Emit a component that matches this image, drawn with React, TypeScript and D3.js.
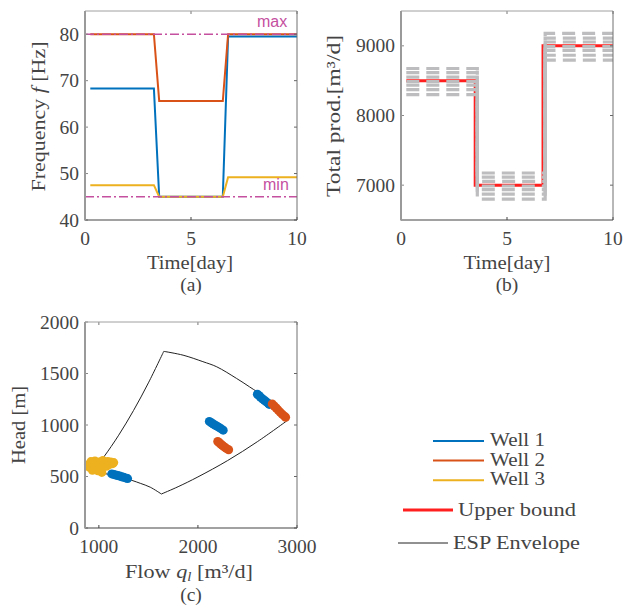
import React from 'react';
import * as d3 from 'd3';

// ---------- Data ----------
// (a) ESP frequencies
const timeA = [0.25, 3.25, 3.5, 6.5, 6.75, 10];
const well1Freq = [68.3, 68.3, 45, 45, 79.5, 79.5];
const well2Freq = [80, 80, 65.6, 65.6, 80, 80];
const well3Freq = [47.5, 47.5, 45, 45, 49.2, 49.2];
const freqBounds = [80, 45];
const freqBoundLabels = ['max', 'min'];
const freqTicks = [40, 50, 60, 70, 80];
const timeTicks = [0, 5, 10];

// (b) total production
const upperBoundTimes = [0.25, 3.5, 6.7, 10];
const upperBoundValues = [8500, 7000, 9000, 9000];
const scenarioTimes = [0.25, 3.6, 6.8, 10];
const scenario1 = [8675, 7175, 9180, 9180];
const scenario2 = [8615, 7115, 9110, 9110];
const scenario3 = [8550, 7055, 9055, 9055];
const scenario4 = [8488, 6988, 8990, 8990];
const scenario5 = [8435, 6935, 8935, 8935];
const scenario6 = [8370, 6870, 8865, 8865];
const scenario7 = [8300, 6800, 8795, 8795];
const prodTicks = [7000, 8000, 9000];

// (c) ESP envelope (flow m3/d, head m)
const envMinFlowQ = [931, 1050, 1200, 1350, 1500, 1655];
const envMinFlowH = [543, 690, 901, 1141, 1409, 1715];
const envMaxFreqQ = [1655, 1850, 2050, 2190, 2390, 2520, 2700, 2900];
const envMaxFreqH = [1715, 1678, 1615, 1565, 1452, 1371, 1250, 1042];
const envMaxFlowQ = [2900, 2600, 2300, 2000, 1800, 1631];
const envMaxFlowH = [1042, 838, 655, 496, 401, 330];
const envMinFreqQ = [1631, 1519, 1418, 1344, 1232, 1153, 1041, 931];
const envMinFreqH = [330, 396, 434, 459, 495, 511, 531, 543];

const well1Q = [1130, 1150, 1170, 1190, 1210, 1230, 1250, 1270, 1290,
  2115, 2135, 2155, 2175, 2195, 2215, 2235, 2255,
  2600, 2615, 2630, 2650, 2670, 2690, 2710, 2720];
const well1H = [525, 520, 515, 510, 505, 498, 492, 486, 480,
  1035, 1022, 1010, 998, 987, 975, 963, 950,
  1298, 1287, 1272, 1255, 1240, 1225, 1210, 1200];
const well2Q = [2200, 2215, 2230, 2245, 2260, 2275, 2290, 2310,
  2750, 2770, 2790, 2810, 2830, 2850, 2870, 2885];
const well2H = [840, 828, 815, 803, 792, 780, 770, 760,
  1205, 1185, 1165, 1145, 1125, 1105, 1088, 1075];
const well3Q = [895, 905, 920, 935, 950, 960, 975, 990, 1005, 1015, 1030, 1040, 1060, 1075, 1090, 1105, 1120, 1140, 1150, 1020, 1000];
const well3H = [615, 590, 645, 560, 620, 650, 595, 555, 640, 610, 540, 655, 630, 600, 645, 615, 640, 625, 635, 560, 575];
const headTicks = [0, 500, 1000, 1500, 2000];
const flowTicks = [1000, 2000, 3000];

const legendNames = ['Well 1', 'Well 2', 'Well 3'];

// ---------- Styles ----------
const C1 = '#0072BD';
const C2 = '#D95319';
const C3 = '#EDB120';
const MAG = '#c5509f';
const TXT = '#444';
const SERIF = '"Liberation Serif", "Times New Roman", serif';

const boxA = { x0: 85, x1: 297, y0: 11, y1: 220 };
const boxB = { x0: 401, x1: 613, y0: 11, y1: 220 };
const boxC = { x0: 85, x1: 297, y0: 322, y1: 528 };

function Frame({ box, xs, ys, xTicks, yTicks, xFmt, yFmt, xLabelY }: any) {
  const tl = 3;
  return (
    <g>
      {xTicks.map((t: number) => (
        <g key={'xt' + t}>
          <line x1={xs(t)} x2={xs(t)} y1={box.y1} y2={box.y1 - tl} stroke="#444" strokeWidth={1} />
          <line x1={xs(t)} x2={xs(t)} y1={box.y0} y2={box.y0 + tl} stroke="#777" strokeWidth={1} />
          <text x={xs(t)} y={xLabelY} textAnchor="middle" fontFamily={SERIF} fontSize={19.5} fill={TXT}>{xFmt(t)}</text>
        </g>
      ))}
      {yTicks.map((t: number) => (
        <g key={'yt' + t}>
          <line x1={box.x0} x2={box.x0 + tl} y1={ys(t)} y2={ys(t)} stroke="#888" strokeWidth={1} />
          <line x1={box.x1} x2={box.x1 - tl} y1={ys(t)} y2={ys(t)} stroke="#666" strokeWidth={1} />
          <text x={box.x0 - 6} y={ys(t) + 6.5} textAnchor="end" fontFamily={SERIF} fontSize={19.5} fill={TXT}>{yFmt(t)}</text>
        </g>
      ))}
      <line x1={box.x0} x2={box.x1} y1={box.y0} y2={box.y0} stroke="#a0a0a0" strokeWidth={1} />
      <line x1={box.x1} x2={box.x1} y1={box.y0} y2={box.y1} stroke="#707070" strokeWidth={1} />
      <line x1={box.x0} x2={box.x1} y1={box.y1} y2={box.y1} stroke="#444" strokeWidth={1.2} />
      <line x1={box.x0} x2={box.x0} y1={box.y0} y2={box.y1 + 0.6} stroke="#9a9a9a" strokeWidth={2} />
    </g>
  );
}

export default function App() {
  const xA = d3.scaleLinear().domain([0, 10]).range([boxA.x0, boxA.x1]);
  const yA = d3.scaleLinear().domain([40, 85]).range([boxA.y1, boxA.y0]);
  const xB = d3.scaleLinear().domain([0, 10]).range([boxB.x0, boxB.x1]);
  const yB = d3.scaleLinear().domain([6500, 9500]).range([boxB.y1, boxB.y0]);
  const xC = d3.scaleLinear().domain([860, 3000]).range([boxC.x0, boxC.x1]);
  const yC = d3.scaleLinear().domain([0, 2000]).range([boxC.y1, boxC.y0]);

  const lineA = d3.line<[number, number]>().x(d => xA(d[0])).y(d => yA(d[1]));
  const wellsA = [
    { v: well1Freq, c: C1 },
    { v: well2Freq, c: C2 },
    { v: well3Freq, c: C3 },
  ];

  const stairB = d3.line<[number, number]>().x(d => xB(d[0])).y(d => yB(d[1])).curve(d3.curveStepAfter);
  const scenarios = [scenario1, scenario2, scenario3, scenario4, scenario5, scenario6, scenario7];

  const segCR = (Q: number[], Hh: number[]) =>
    d3.line<[number, number]>().x(d => xC(d[0])).y(d => yC(d[1])).curve(d3.curveCatmullRom)(
      Q.map((q, i) => [q, Hh[i]] as [number, number])
    ) || '';

  const fmt = (t: number) => String(t);

  return (
    <svg width={625} height={612} style={{ position: 'absolute', left: 0, top: 0, background: '#fff' }}>
      <rect x={0} y={0} width={625} height={612} fill="#fff" />

      {/* ---------- (a) ---------- */}
      <g>
        {wellsA.map((w, i) => (
          <path key={i} d={lineA(timeA.map((t, j) => [t, w.v[j]] as [number, number])) || ''} fill="none" stroke={w.c} strokeWidth={2} />
        ))}
        {freqBounds.map((b, i) => (
          <line key={i} x1={boxA.x0} x2={boxA.x1} y1={yA(b)} y2={yA(b)} stroke={MAG} strokeWidth={1.5} strokeDasharray="9,3,2,3" />
        ))}
        <text x={257} y={27} fontFamily='"Liberation Sans", Arial, sans-serif' fontSize={16} fill={MAG}>{freqBoundLabels[0]}</text>
        <text x={263} y={190} fontFamily='"Liberation Sans", Arial, sans-serif' fontSize={16} fill={MAG}>{freqBoundLabels[1]}</text>
        <Frame box={boxA} xs={xA} ys={yA} xTicks={timeTicks} yTicks={freqTicks} xFmt={fmt} yFmt={fmt} xLabelY={245} />
        <text transform="translate(45,116.5) rotate(-90)" textAnchor="middle" fontFamily={SERIF} fontSize={19.5} fill={TXT}
          textLength={150} lengthAdjust="spacingAndGlyphs">
          Frequency <tspan fontStyle="italic">f</tspan> [Hz]
        </text>
        <text x={190} y={269} textAnchor="middle" fontFamily={SERIF} fontSize={19.5} fill={TXT} textLength={86} lengthAdjust="spacingAndGlyphs">Time[day]</text>
        <text x={191} y={291} textAnchor="middle" fontFamily={SERIF} fontSize={19.5} fill={TXT}>(a)</text>
      </g>

      {/* ---------- (b) ---------- */}
      <g>
        <path d={stairB(upperBoundTimes.map((t, j) => [t, upperBoundValues[j]] as [number, number])) || ''} fill="none" stroke="#ff1f1f" strokeWidth={3} />
        {scenarios.map((s, i) => (
          <path key={i} d={stairB(scenarioTimes.map((t, j) => [t, s[j]] as [number, number])) || ''} fill="none" stroke="#bdbdbf" strokeWidth={3.2} strokeDasharray="13,7" />
        ))}
        <Frame box={boxB} xs={xB} ys={yB} xTicks={timeTicks} yTicks={prodTicks} xFmt={fmt} yFmt={fmt} xLabelY={245} />
        <text transform="translate(340,116) rotate(-90)" textAnchor="middle" fontFamily={SERIF} fontSize={19.5} fill={TXT}
          textLength={162} lengthAdjust="spacingAndGlyphs">Total prod.[m³/d]</text>
        <text x={507} y={269} textAnchor="middle" fontFamily={SERIF} fontSize={19.5} fill={TXT} textLength={87} lengthAdjust="spacingAndGlyphs">Time[day]</text>
        <text x={507} y={291} textAnchor="middle" fontFamily={SERIF} fontSize={19.5} fill={TXT}>(b)</text>
      </g>

      {/* ---------- (c) ---------- */}
      <g>
        <path d={segCR(envMinFlowQ, envMinFlowH)} fill="none" stroke="#222" strokeWidth={1} />
        <path d={segCR(envMaxFreqQ, envMaxFreqH)} fill="none" stroke="#222" strokeWidth={1} />
        <path d={segCR(envMaxFlowQ, envMaxFlowH)} fill="none" stroke="#222" strokeWidth={1} />
        <path d={segCR(envMinFreqQ, envMinFreqH)} fill="none" stroke="#222" strokeWidth={1} />
        {well1Q.map((q, i) => <circle key={'w1' + i} cx={xC(q)} cy={yC(well1H[i])} r={4.5} fill={C1} />)}
        {well2Q.map((q, i) => <circle key={'w2' + i} cx={xC(q)} cy={yC(well2H[i])} r={4.5} fill={C2} />)}
        {well3Q.map((q, i) => <circle key={'w3' + i} cx={xC(q)} cy={yC(well3H[i])} r={4.5} fill={C3} />)}
        <Frame box={boxC} xs={xC} ys={yC} xTicks={flowTicks} yTicks={headTicks} xFmt={fmt} yFmt={fmt} xLabelY={553} />
        <text transform="translate(25,425) rotate(-90)" textAnchor="middle" fontFamily={SERIF} fontSize={19.5} fill={TXT}
          textLength={78} lengthAdjust="spacingAndGlyphs">Head [m]</text>
        <text x={189} y={578} textAnchor="middle" fontFamily={SERIF} fontSize={19.5} fill={TXT} textLength={128} lengthAdjust="spacingAndGlyphs">
          Flow <tspan fontStyle="italic">q</tspan><tspan fontStyle="italic" fontSize={13} dy={3}>l</tspan><tspan dy={-3}> [m³/d]</tspan>
        </text>
        <text x={191} y={601} textAnchor="middle" fontFamily={SERIF} fontSize={19.5} fill={TXT}>(c)</text>
      </g>

      {/* ---------- Legend ---------- */}
      <g>
        {legendNames.map((n, i) => {
          const y = 441 + i * 19.6;
          return (
            <g key={n}>
              <line x1={433} x2={484} y1={y} y2={y} stroke={[C1, C2, C3][i]} strokeWidth={2} />
              <text x={490} y={y + 5} fontFamily={SERIF} fontSize={19.5} fill={TXT} textLength={55} lengthAdjust="spacingAndGlyphs">{n}</text>
            </g>
          );
        })}
        <line x1={403} x2={453} y1={510} y2={510} stroke="#ff1f1f" strokeWidth={3.2} />
        <text x={458} y={516} fontFamily={SERIF} fontSize={19.5} fill={TXT} textLength={118} lengthAdjust="spacingAndGlyphs">Upper bound</text>
        <line x1={398} x2={448} y1={543} y2={543} stroke="#222" strokeWidth={1} />
        <text x={453} y={548.5} fontFamily={SERIF} fontSize={19.5} fill={TXT} textLength={127} lengthAdjust="spacingAndGlyphs">ESP Envelope</text>
      </g>
    </svg>
  );
}
